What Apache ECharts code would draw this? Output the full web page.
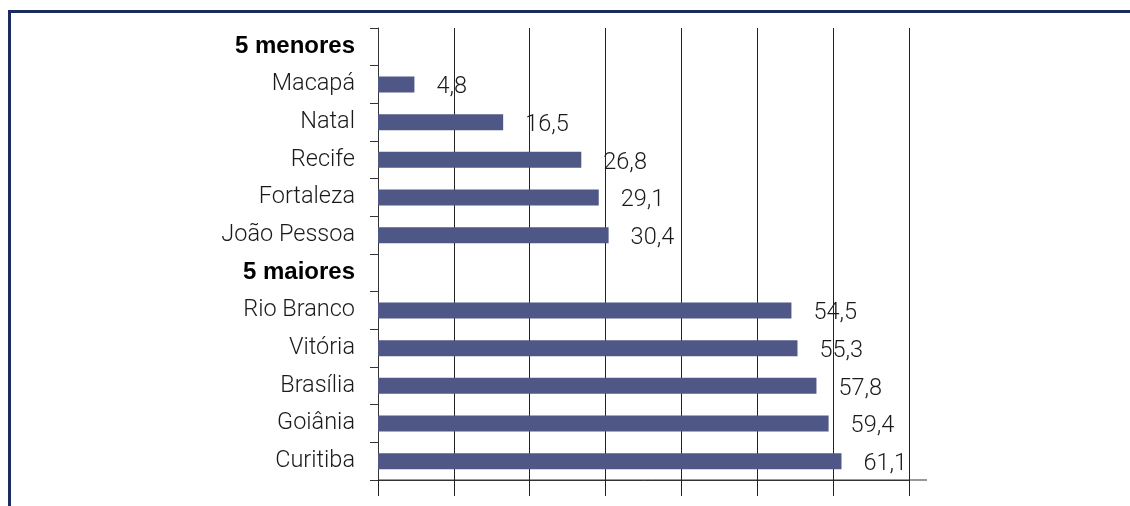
<!DOCTYPE html>
<html>
<head>
<meta charset="utf-8">
<script src="https://cdn.jsdelivr.net/npm/echarts@6/dist/echarts.min.js"></script>
<style>
  html, body { margin: 0; padding: 0; background: #fff; overflow: hidden; width: 1130px; height: 506px; }
  #frame { position: absolute; left: 8px; top: 10px; width: 1300px; height: 600px;
           border-left: 3px solid #1a2b5f; border-top: 3px solid #1a2b5f; }
  #chart { position: absolute; left: 0; top: 0; width: 1130px; height: 506px; }
</style>
</head>
<body>
<div id="frame"></div>
<div id="chart"></div>
<script>
const categories = ['5 menores', 'Macapá', 'Natal', 'Recife', 'Fortaleza', 'João Pessoa',
                    '5 maiores', 'Rio Branco', 'Vitória', 'Brasília', 'Goiânia', 'Curitiba'];
const groupHeaders = ['5 menores', '5 maiores'];
const values = [null, 4.8, 16.5, 26.8, 29.1, 30.4, null, 54.5, 55.3, 57.8, 59.4, 61.1];
const axisMin = 0, axisMax = 70, axisInterval = 10;

const chart = echarts.init(document.getElementById('chart'), null, { renderer: 'canvas' });
const FONT = 'Roboto';
const option = {
  animation: false,
  grid: { left: 378, right: 221, top: 28, bottom: 26, containLabel: false },
  xAxis: {
    type: 'value', min: axisMin, max: axisMax, interval: axisInterval, position: 'bottom',
    axisLine: { show: true, onZero: false, lineStyle: { color: '#333', width: 1 } },
    axisTick: { show: true, length: 16, inside: false, lineStyle: { color: '#222', width: 1 } },
    axisLabel: { show: false },
    splitLine: { show: true, lineStyle: { color: '#222', width: 1 } }
  },
  yAxis: {
    type: 'category', data: categories, inverse: true,
    axisLine: { show: true, onZero: false, lineStyle: { color: '#333', width: 1 } },
    axisTick: { show: true, length: 8, inside: false, alignWithLabel: false, lineStyle: { color: '#333' } },
    axisLabel: {
      margin: 23,
      formatter: v => groupHeaders.includes(v) ? '{b|' + v + '}' : '{n|' + v + '}',
      rich: {
        n: { fontFamily: FONT, fontWeight: 300, fontSize: 23.5, color: '#1a1a1a' },
        b: { fontFamily: 'Liberation Sans', fontWeight: 'bold', fontSize: 24, color: '#000' }
      }
    },
    splitLine: { show: false }
  },
  series: [{
    type: 'bar', data: values, barWidth: 16,
    itemStyle: { color: '#4f5786' },
    label: {
      show: true, position: 'right', distance: 22, offset: [0, 3],
      fontFamily: FONT, fontWeight: 300, fontSize: 23.5, color: '#1a1a1a',
      formatter: p => p.value == null ? '' : String(p.value.toFixed(1)).replace('.', ',')
    }
  }]
};
chart.setOption(option);

// extend the horizontal axis line slightly past the last gridline, as in the reference
const rect = chart.getModel().getComponent('grid', 0).coordinateSystem.getRect();
chart.setOption({
  graphic: [{
    type: 'line', silent: true,
    shape: { x1: rect.x, y1: rect.y + rect.height, x2: rect.x + rect.width + 18, y2: rect.y + rect.height },
    style: { stroke: '#333', lineWidth: 1 }
  }]
});
</script>
</body>
</html>
